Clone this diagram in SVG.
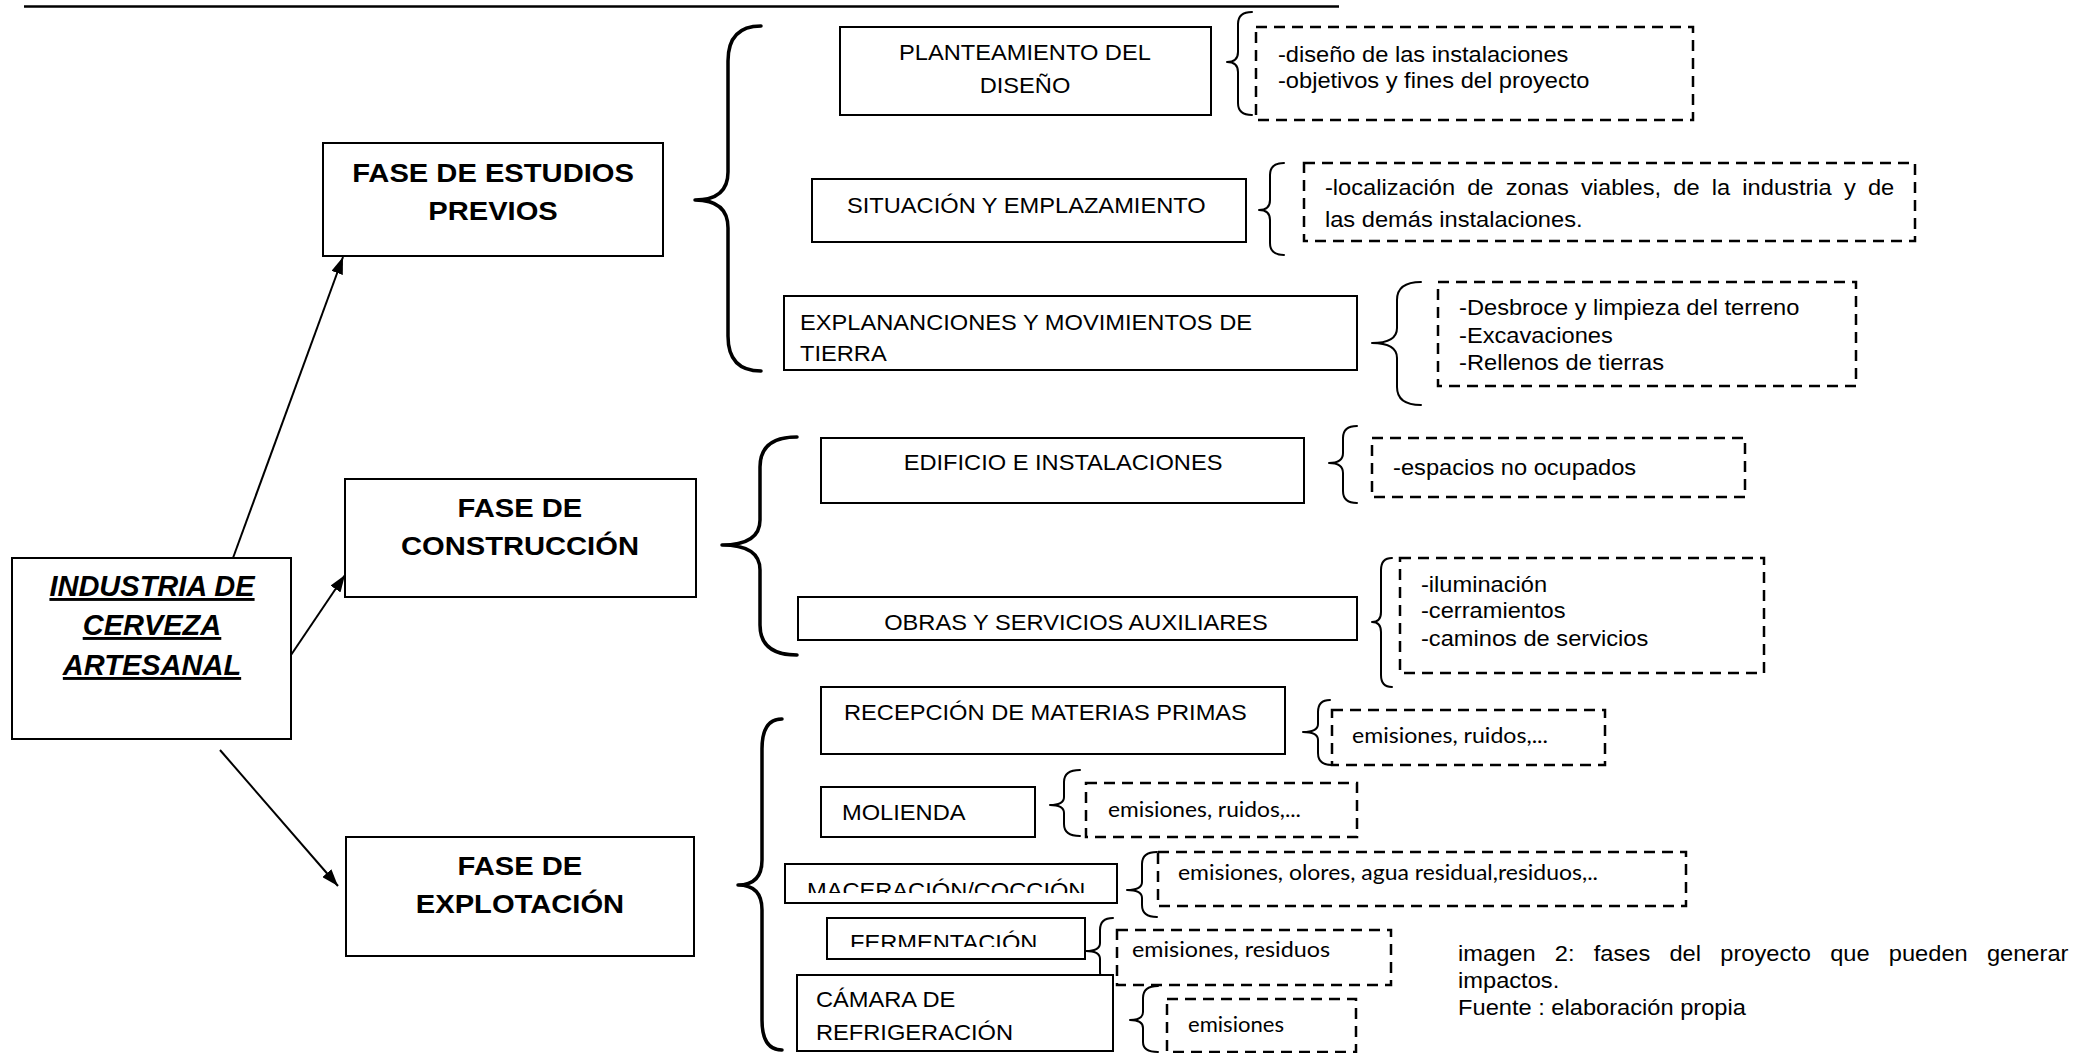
<svg xmlns="http://www.w3.org/2000/svg" width="2094" height="1053" viewBox="0 0 2094 1053">
  <style>
    .box { fill: #fff; stroke: #000; stroke-width: 2; }
    .dash { fill: none; stroke: #000; stroke-width: 2.5; stroke-dasharray: 11 7; }
    .brace { fill: none; stroke: #000; stroke-width: 2; stroke-linecap: round; stroke-linejoin: round; }
    .brace-big { fill: none; stroke: #000; stroke-width: 3.5; stroke-linecap: round; stroke-linejoin: round; }
    .conn { fill: none; stroke: #000; stroke-width: 2; }
    .t { font-family: "Liberation Sans", Arial, sans-serif; font-size: 21.5px; fill: #000; }
    .h { font-family: "Liberation Sans", Arial, sans-serif; font-size: 26.5px; font-weight: bold; fill: #000; text-anchor: middle; }
    .c { font-family: Lato, "Open Sans", sans-serif; font-size: 21px; fill: #000; }
    .mid { text-anchor: middle; }
    .title { font-family: "Liberation Sans", Arial, sans-serif; font-size: 29px; font-weight: bold; font-style: italic; text-decoration: underline; text-anchor: middle; fill: #000; }
  </style>
  <defs>
    <marker id="arrow" markerUnits="userSpaceOnUse" markerWidth="18" markerHeight="12" refX="17" refY="6" orient="auto">
      <path d="M0,0 L17,6 L0,12 z" fill="#000"/>
    </marker>
    <clipPath id="clipMac"><rect x="780" y="860" width="340" height="33"/></clipPath>
    <clipPath id="clipFer"><rect x="825" y="915" width="262" height="32"/></clipPath>
  </defs>

  <rect width="2094" height="1053" fill="#fff"/>

  <!-- header rule -->
  <line x1="24" y1="6.5" x2="1339" y2="6.5" stroke="#000" stroke-width="2.5"/>

  <!-- connectors: arrows from the root and the grouping braces -->
  <g id="connectors">
    <line class="conn" x1="233" y1="558" x2="343" y2="257" marker-end="url(#arrow)"/>
    <line class="conn" x1="291" y1="655" x2="345" y2="575" marker-end="url(#arrow)"/>
    <line class="conn" x1="220" y1="750" x2="338" y2="886" marker-end="url(#arrow)"/>

    <path class="brace-big" d="M761,26 Q728,26 728,61 L728,172 Q728,200 695,200 Q728,200 728,228 L728,336 Q728,371 761,371"/>
    <path class="brace-big" d="M797,437 Q760,437 760,467 L760,520 Q760,545 722,545 Q760,545 760,570 L760,625 Q760,655 797,655"/>
    <path class="brace-big" d="M782,719 Q762,719 762,749 L762,860 Q762,885 738,885 Q762,885 762,910 L762,1020 Q762,1050 782,1050"/>

    <path class="brace" d="M1252,12 Q1238,12 1238,24 L1238,52 Q1238,62 1227,62 Q1238,62 1238,72 L1238,103 Q1238,115 1252,115"/>
    <path class="brace" d="M1284,163 Q1270,163 1270,175 L1270,200 Q1270,210 1259,210 Q1270,210 1270,220 L1270,243 Q1270,255 1284,255"/>
    <path class="brace" d="M1421,282 Q1397,282 1397,300 L1397,328 Q1397,343 1372,343 Q1397,343 1397,358 L1397,387 Q1397,405 1421,405"/>
    <path class="brace" d="M1357,426 Q1343,426 1343,438 L1343,453 Q1343,463 1329,463 Q1343,463 1343,473 L1343,491 Q1343,503 1357,503"/>
    <path class="brace" d="M1392,558 Q1381,558 1381,570 L1381,612 Q1381,622 1372,622 Q1381,622 1381,632 L1381,675 Q1381,687 1392,687"/>
    <path class="brace" d="M1330,700 Q1318,700 1318,712 L1318,724 Q1318,732 1303,732 Q1318,732 1318,740 L1318,753 Q1318,765 1332,765"/>
    <path class="brace" d="M1080,770 Q1064,770 1064,782 L1064,797 Q1064,805 1050,805 Q1064,805 1064,813 L1064,824 Q1064,836 1080,836"/>
    <path class="brace" d="M1157,852 Q1142,852 1142,864 L1142,882 Q1142,890 1127,890 Q1142,890 1142,898 L1142,905 Q1142,917 1157,917"/>
    <path class="brace" d="M1113,918 Q1100,918 1100,930 L1100,943 Q1100,951 1086,951 Q1100,951 1100,959 L1100,972 Q1100,984 1113,984"/>
    <path class="brace" d="M1158,986 Q1143,986 1143,998 L1143,1012 Q1143,1020 1130,1020 Q1143,1020 1143,1028 L1143,1042 Q1143,1052 1158,1052"/>
  </g>

  <!-- root -->
  <g id="industria">
    <rect class="box" x="12" y="558" width="279" height="181"/>
    <text class="title" x="152" y="596">INDUSTRIA DE</text>
    <text class="title" x="152" y="635">CERVEZA</text>
    <text class="title" x="152" y="675">ARTESANAL</text>
  </g>

  <!-- phases -->
  <g id="fase-estudios">
    <rect class="box" x="323" y="143" width="340" height="113"/>
    <text class="h" transform="scale(1.1 1)" x="448.2" y="182">FASE DE ESTUDIOS</text>
    <text class="h" transform="scale(1.1 1)" x="448.2" y="220">PREVIOS</text>
  </g>
  <g id="fase-construccion">
    <rect class="box" x="345" y="479" width="351" height="118"/>
    <text class="h" transform="scale(1.1 1)" x="472.7" y="517">FASE DE</text>
    <text class="h" transform="scale(1.1 1)" x="472.7" y="555">CONSTRUCCIÓN</text>
  </g>
  <g id="fase-explotacion">
    <rect class="box" x="346" y="837" width="348" height="119"/>
    <text class="h" transform="scale(1.1 1)" x="472.7" y="875">FASE DE</text>
    <text class="h" transform="scale(1.1 1)" x="472.7" y="913">EXPLOTACIÓN</text>
  </g>

  <!-- estudios previos -->
  <g id="planteamiento">
    <rect class="box" x="840" y="27" width="371" height="88"/>
    <text class="t mid" transform="scale(1.1 1)" x="931.8" y="60">PLANTEAMIENTO DEL</text>
    <text class="t mid" transform="scale(1.1 1)" x="931.8" y="93">DISEÑO</text>
  </g>
  <g id="planteamiento-impactos">
    <rect class="dash" x="1256" y="27" width="437" height="93"/>
    <text class="t" transform="scale(1.1 1)" x="1161.8" y="62">-diseño de las instalaciones</text>
    <text class="t" transform="scale(1.1 1)" x="1161.8" y="88">-objetivos y fines del proyecto</text>
  </g>
  <g id="situacion">
    <rect class="box" x="812" y="179" width="434" height="63"/>
    <text class="t" transform="scale(1.1 1)" x="770" y="213">SITUACIÓN Y EMPLAZAMIENTO</text>
  </g>
  <g id="situacion-impactos">
    <rect class="dash" x="1304" y="163" width="611" height="78"/>
    <text class="t" transform="scale(1.1 1)" x="1204.5" y="195" word-spacing="5.1">-localización de zonas viables, de la industria y de</text>
    <text class="t" transform="scale(1.1 1)" x="1204.5" y="227">las demás instalaciones.</text>
  </g>
  <g id="explanaciones">
    <rect class="box" x="784" y="296" width="573" height="74"/>
    <text class="t" transform="scale(1.1 1)" x="727.3" y="330">EXPLANANCIONES Y MOVIMIENTOS DE</text>
    <text class="t" transform="scale(1.1 1)" x="727.3" y="361">TIERRA</text>
  </g>
  <g id="explanaciones-impactos">
    <rect class="dash" x="1438" y="282" width="418" height="104"/>
    <text class="t" transform="scale(1.1 1)" x="1326.4" y="315">-Desbroce y limpieza del terreno</text>
    <text class="t" transform="scale(1.1 1)" x="1326.4" y="343">-Excavaciones</text>
    <text class="t" transform="scale(1.1 1)" x="1326.4" y="370">-Rellenos de tierras</text>
  </g>

  <!-- construccion -->
  <g id="edificio">
    <rect class="box" x="821" y="438" width="483" height="65"/>
    <text class="t mid" transform="scale(1.1 1)" x="966.4" y="470">EDIFICIO E INSTALACIONES</text>
  </g>
  <g id="edificio-impactos">
    <rect class="dash" x="1372" y="438" width="373" height="59"/>
    <text class="t" transform="scale(1.1 1)" x="1266.4" y="475">-espacios no ocupados</text>
  </g>
  <g id="obras">
    <rect class="box" x="798" y="597" width="559" height="43"/>
    <text class="t mid" transform="scale(1.1 1)" x="978.2" y="630">OBRAS Y SERVICIOS AUXILIARES</text>
  </g>
  <g id="obras-impactos">
    <rect class="dash" x="1400" y="558" width="364" height="115"/>
    <text class="t" transform="scale(1.1 1)" x="1291.8" y="592">-iluminación</text>
    <text class="t" transform="scale(1.1 1)" x="1291.8" y="618">-cerramientos</text>
    <text class="t" transform="scale(1.1 1)" x="1291.8" y="646">-caminos de servicios</text>
  </g>

  <!-- explotacion -->
  <g id="recepcion">
    <rect class="box" x="821" y="687" width="464" height="67"/>
    <text class="t" transform="scale(1.1 1)" x="767.3" y="720">RECEPCIÓN DE MATERIAS PRIMAS</text>
  </g>
  <g id="recepcion-impactos">
    <rect class="dash" x="1332" y="710" width="273" height="55"/>
    <text class="c" x="1352" y="743" textLength="196" lengthAdjust="spacingAndGlyphs">emisiones, ruidos,...</text>
  </g>
  <g id="molienda">
    <rect class="box" x="821" y="787" width="214" height="50"/>
    <text class="t" transform="scale(1.1 1)" x="765.5" y="820">MOLIENDA</text>
  </g>
  <g id="molienda-impactos">
    <rect class="dash" x="1086" y="783" width="271" height="54"/>
    <text class="c" x="1108" y="817" textLength="193" lengthAdjust="spacingAndGlyphs">emisiones, ruidos,...</text>
  </g>
  <g id="maceracion">
    <rect class="box" x="785" y="864" width="332" height="39"/>
    <g clip-path="url(#clipMac)">
      <text class="t" transform="scale(1.1 1)" x="733.6" y="898">MACERACIÓN/COCCIÓN</text>
    </g>
  </g>
  <g id="maceracion-impactos">
    <rect class="dash" x="1158" y="852" width="528" height="54"/>
    <text class="c" x="1178" y="880" textLength="420" lengthAdjust="spacingAndGlyphs">emisiones, olores, agua residual,residuos,..</text>
  </g>
  <g id="fermentacion">
    <rect class="box" x="827" y="918" width="258" height="41"/>
    <g clip-path="url(#clipFer)">
      <text class="t" transform="scale(1.1 1)" x="772.7" y="950">FERMENTACIÓN</text>
    </g>
  </g>
  <g id="fermentacion-impactos">
    <rect class="dash" x="1117" y="930" width="274" height="55"/>
    <text class="c" x="1132" y="957" textLength="198" lengthAdjust="spacingAndGlyphs">emisiones, residuos</text>
  </g>
  <g id="camara">
    <rect class="box" x="797" y="975" width="316" height="76"/>
    <text class="t" transform="scale(1.1 1)" x="741.8" y="1007">CÁMARA DE</text>
    <text class="t" transform="scale(1.1 1)" x="741.8" y="1040">REFRIGERACIÓN</text>
  </g>
  <g id="camara-impactos">
    <rect class="dash" x="1167" y="999" width="189" height="53"/>
    <text class="c" x="1188" y="1032" textLength="96" lengthAdjust="spacingAndGlyphs">emisiones</text>
  </g>

  <!-- caption -->
  <g id="caption">
    <text class="t" transform="scale(1.1 1)" x="1325.5" y="961" word-spacing="11.5">imagen 2: fases del proyecto que pueden generar</text>
    <text class="t" transform="scale(1.1 1)" x="1325.5" y="988">impactos.</text>
    <text class="t" transform="scale(1.1 1)" x="1325.5" y="1015">Fuente : elaboración propia</text>
  </g>
</svg>
